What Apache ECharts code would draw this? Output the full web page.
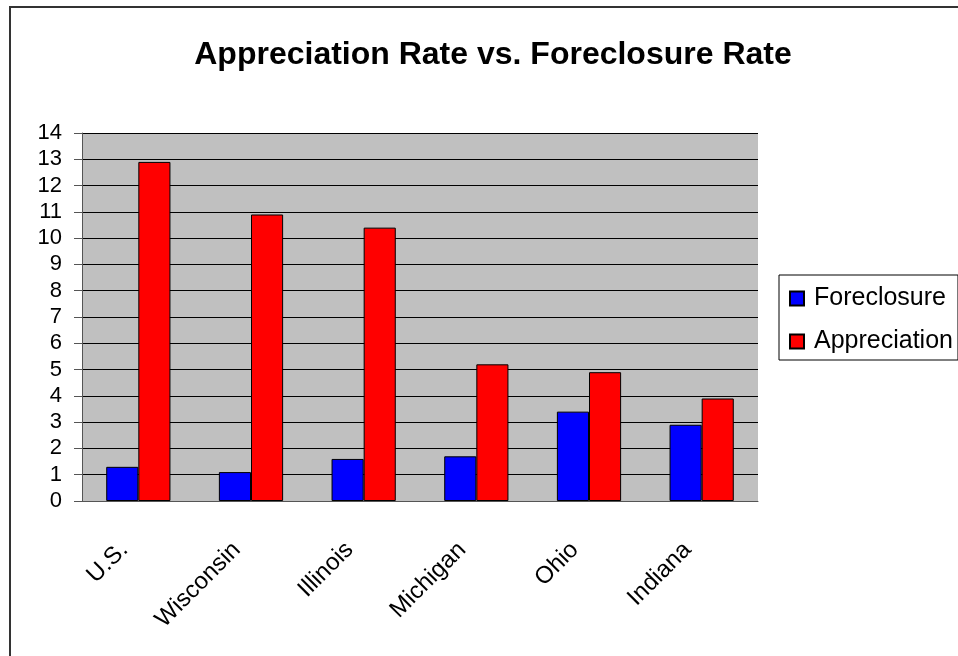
<!DOCTYPE html>
<html>
<head>
<meta charset="utf-8">
<script src="https://cdn.jsdelivr.net/npm/echarts@6/dist/echarts.min.js"></script>
<style>
html,body{margin:0;padding:0;background:#fff;}
#chart{width:958px;height:656px;}
</style>
</head>
<body>
<div id="chart"></div>
<script>
var categories = ['U.S.', 'Wisconsin', 'Illinois', 'Michigan', 'Ohio', 'Indiana'];
var foreclosure = [1.3, 1.1, 1.6, 1.7, 3.4, 2.9];
var appreciation = [12.9, 10.9, 10.4, 5.2, 4.9, 3.9];
var titleText = 'Appreciation Rate vs. Foreclosure Rate';

var chart = echarts.init(document.getElementById('chart'));
var font = 'Liberation Sans, Arial, sans-serif';

var option = {
	animation: false,
	textStyle: {fontFamily: font},
	graphic: [
		{
			type: 'rect',
			shape: {x: 10, y: 7, width: 1000, height: 700},
			style: {fill: 'none', stroke: '#333', lineWidth: 2},
			z: -1
		},
		{
			type: 'text',
			x: 493,
			y: 39,
			style: {
				text: titleText,
				fontFamily: font,
				fontSize: 32,
				fontWeight: 'bold',
				fill: '#000',
				align: 'center',
				verticalAlign: 'top'
			}
		}
	],
	legend: {
		orient: 'vertical',
		left: 779,
		top: 275,
		padding: [11, 5, 6, 10],
		itemGap: 18,
		itemWidth: 14,
		itemHeight: 14,
		borderColor: '#000',
		borderWidth: 1,
		backgroundColor: '#fff',
		icon: 'rect',
		textStyle: {fontSize: 25, color: '#000', fontFamily: font, padding: [0, 0, 0, 5]},
		data: ['Foreclosure', 'Appreciation']
	},
	grid: {
		left: 82,
		right: 200,
		top: 133,
		bottom: 155,
		show: true,
		backgroundColor: '#c0c0c0',
		borderWidth: 0
	},
	xAxis: {
		type: 'category',
		data: categories,
		axisLine: {lineStyle: {color: '#555', width: 1}},
		axisTick: {length: 7, lineStyle: {color: '#555'}},
		axisLabel: {
			rotate: 45,
			margin: 31,
			fontSize: 24,
			color: '#000',
			fontFamily: font,
			formatter: function (v) { return v + '   '; }
		}
	},
	yAxis: {
		type: 'value',
		min: 0,
		max: 14,
		interval: 1,
		axisLine: {show: true, lineStyle: {color: '#555', width: 1}},
		axisTick: {show: true, length: 8, lineStyle: {color: '#555'}},
		axisLabel: {margin: 20, fontSize: 22, color: '#000', fontFamily: font},
		splitLine: {lineStyle: {color: '#000', width: 1}}
	},
	series: [
		{
			name: 'Foreclosure',
			type: 'bar',
			data: foreclosure,
			barGap: '0%',
			barCategoryGap: '43%',
			itemStyle: {color: '#0000ff', borderColor: '#000', borderWidth: 1}
		},
		{
			name: 'Appreciation',
			type: 'bar',
			data: appreciation,
			itemStyle: {color: '#ff0000', borderColor: '#000', borderWidth: 1}
		}
	]
};
chart.setOption(option);
</script>
</body>
</html>
